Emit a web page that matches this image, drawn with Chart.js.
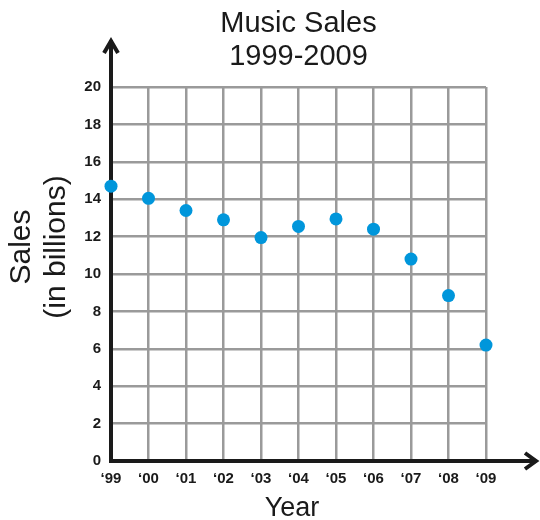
<!DOCTYPE html>
<html>
<head>
<meta charset="utf-8">
<title>Music Sales 1999-2009</title>
<script src="https://cdn.jsdelivr.net/npm/chart.js@4/dist/chart.umd.min.js"></script>
<style>
  html, body { margin: 0; padding: 0; background: #fff; }
  #wrap { width: 540px; height: 520px; position: relative; }
</style>
</head>
<body>
<div id="wrap"><canvas id="salesChart" width="540" height="520"></canvas></div>
<script>
var years = ["\u201899", "\u201800", "\u201801", "\u201802", "\u201803", "\u201804",
             "\u201805", "\u201806", "\u201807", "\u201808", "\u201809"];
var sales = [14.7, 14.05, 13.4, 12.9, 11.95, 12.55, 12.95, 12.4, 10.8, 8.85, 6.2];
var yMin = 0;
var yMax = 20;
var yStep = 2;
var titleLines = ["Music Sales", "1999-2009"];
var yTitleLines = ["Sales", "(in billions)"];
var xTitle = "Year";

(function () {
  var FONT = '"Liberation Sans", Arial, sans-serif';
  var INK = "#1a1a1a";

  // thick black axes with open arrowheads, drawn under the dots
  var axesPlugin = {
    id: "arrowAxes",
    beforeDatasetsDraw: function (chart) {
      var ctx = chart.ctx;
      var a = chart.chartArea;
      ctx.save();
      ctx.strokeStyle = INK;
      ctx.lineWidth = 4;
      ctx.lineCap = "butt";
      ctx.lineJoin = "miter";

      ctx.beginPath();
      ctx.moveTo(a.left, a.bottom + 2);
      ctx.lineTo(a.left, 40);
      ctx.moveTo(a.left - 2, a.bottom);
      ctx.lineTo(chart.width - 4, a.bottom);
      ctx.stroke();

      ctx.beginPath();
      ctx.moveTo(a.left - 7, 53);
      ctx.lineTo(a.left, 41);
      ctx.lineTo(a.left + 7, 53);
      ctx.moveTo(chart.width - 15, a.bottom - 8);
      ctx.lineTo(chart.width - 4, a.bottom);
      ctx.lineTo(chart.width - 15, a.bottom + 8);
      ctx.stroke();
      ctx.restore();
    },
    afterDraw: function (chart) {
      var ctx = chart.ctx;
      ctx.save();
      ctx.fillStyle = INK;
      ctx.textAlign = "center";
      ctx.textBaseline = "middle";

      ctx.font = "27px " + FONT;
      ctx.fillText(xTitle, 292, 509);

      ctx.font = "30px " + FONT;
      ctx.translate(22, 247);
      ctx.rotate(-Math.PI / 2);
      yTitleLines.forEach(function (line, i) {
        ctx.fillText(line, 0, i * 35);
      });
      ctx.restore();
    }
  };

  new Chart(document.getElementById("salesChart").getContext("2d"), {
    type: "line",
    data: {
      labels: years,
      datasets: [
        {
          label: "Music sales",
          data: sales,
          showLine: false,
          pointRadius: 6.5,
          pointHoverRadius: 6.5,
          pointBackgroundColor: "#0096db",
          pointBorderWidth: 0,
          clip: false
        }
      ]
    },
    options: {
      responsive: false,
      animation: false,
      layout: { padding: { top: 0, right: 54, bottom: 0, left: 0 } },
      scales: {
        x: {
          type: "category",
          offset: false,
          border: { display: false },
          grid: { color: "#9a9a9a", lineWidth: 2.5, drawTicks: false },
          ticks: {
            padding: 9,
            color: INK,
            autoSkip: false,
            maxRotation: 0,
            font: { family: FONT, size: 15, weight: "bold" }
          },
          afterFit: function (scale) { scale.height = 59; }
        },
        y: {
          min: yMin,
          max: yMax,
          border: { display: false },
          grid: { color: "#9a9a9a", lineWidth: 2.5, drawTicks: false },
          ticks: {
            stepSize: yStep,
            padding: 10,
            color: INK,
            font: { family: FONT, size: 15, weight: "bold" }
          },
          afterFit: function (scale) { scale.width = 111; }
        }
      },
      plugins: {
        legend: { display: false },
        tooltip: { enabled: false },
        title: {
          display: true,
          text: titleLines,
          fullSize: false,
          color: INK,
          font: { family: FONT, size: 29, weight: "normal", lineHeight: 1.14 },
          padding: { top: 7, bottom: 14 }
        }
      }
    },
    plugins: [axesPlugin]
  });
})();
</script>
</body>
</html>
